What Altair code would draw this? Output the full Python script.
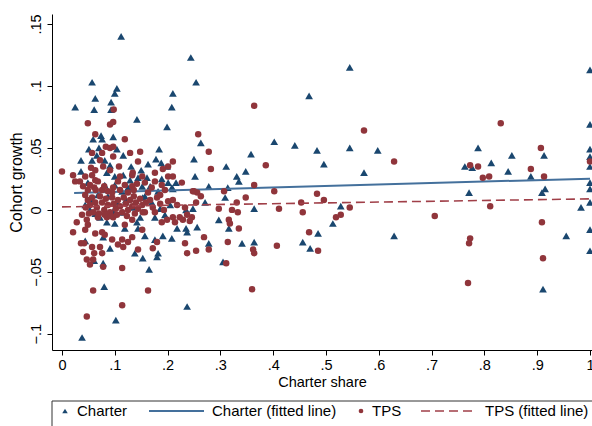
import altair as alt
import pandas as pd

# Charter schools: (charter share, cohort growth)
charter_points = [
    (.112, .140), (.244, .123), (.545, .115), (1.0, .113), (.057, .103), (.254, .103),
    (.104, .098), (.100, .094), (.210, .094), (.468, .092), (.063, .090), (.093, .087),
    (.025, .083), (.208, .083), (.061, .081), (.093, .081), (.142, .073), (1.0, .069),
    (.199, .067), (.074, .060), (.097, .059), (.059, .057), (.076, .057), (.263, .054),
    (.402, .055), (.441, .052), (.788, .050), (.545, .050), (1.0, .049), (.051, .049),
    (.070, .050), (.104, .049), (.184, .049), (.483, .048), (.598, .048), (.358, .045),
    (.913, .044), (.116, .044), (.066, .044), (.852, .044), (1.0, .043), (.250, .041),
    (.178, .041), (.036, .040), (.057, .040), (.081, .040), (.813, .038), (.188, .038),
    (.496, .037), (.163, .037), (.091, .036), (.763, .035), (.777, .034), (.311, .035),
    (.131, .035), (.199, .035), (1.0, .035), (.150, .032), (.036, .031), (.845, .031),
    (.348, .031), (.572, .030), (.085, .030), (.331, .027), (.335, .023), (.252, .027),
    (.888, .027), (.100, .027), (.116, .028), (.129, .024), (.144, .026), (.161, .026),
    (.189, .025), (.216, .022), (1.0, .022), (.049, .022), (.081, .020), (.100, .020),
    (.125, .018), (.152, .019), (.167, .019), (.201, .022), (.208, .018), (.278, .019),
    (.314, .018), (.915, .017), (1.0, .017), (.210, .017), (.068, .012), (.114, .015),
    (.157, .011), (.182, .015), (.771, .014), (.909, .014), (.309, .010), (.271, .006),
    (1.0, .006), (.528, .003), (.983, .002), (.364, .001), (.248, .001), (.235, .000),
    (.053, .000), (.116, -.002), (.072, -.006), (.297, -.008), (.142, -.010), (.085, -.010),
    (.100, -.011), (.513, -.011), (.119, -.015), (.144, -.015), (.256, -.014), (.235, -.015),
    (.218, -.015), (.316, -.015), (1.0, -.016), (.237, -.018), (.485, -.019), (.955, -.021),
    (.629, -.021), (.078, -.022), (.157, -.021), (.191, -.021), (.208, -.023), (.176, -.024),
    (.044, -.025), (.456, -.026), (.341, -.027), (.364, -.026), (.278, -.027), (.091, -.031),
    (.470, -.031), (1.0, -.033), (.138, -.035), (.182, -.035), (.180, -.038), (.153, -.039),
    (.061, -.041), (.078, -.043), (.305, -.042), (.165, -.048), (.080, -.062), (.911, -.064),
    (.237, -.078), (.102, -.089), (.038, -.103),
    (.057, .008), (.087, .011), (.104, .006), (.121, .008), (.136, .002), (.153, .010),
    (.170, .006), (.186, .001), (.063, -.003), (.097, -.001), (.148, -.006), (.176, -.006),
    (.195, -.004), (.205, .004), (.044, .004),
]

# Traditional public schools: (charter share, cohort growth)
tps_points = [
    (.364, .084), (.831, .070), (.098, .081), (.049, .070), (.091, .069), (.097, .071),
    (.572, .064), (.063, .061), (.258, .061), (.119, .057), (.907, .050), (.083, .051),
    (.091, .050), (.097, .051), (.278, .047), (.057, .046), (.076, .046), (.129, .046),
    (.148, .047), (.097, .043), (.072, .040), (.144, .039), (.629, .039), (1.0, .039),
    (.210, .039), (.386, .036), (.773, .036), (.788, .035), (.282, .033), (.888, .033),
    (.191, .033), (.108, .035), (.078, .035), (.201, .035), (.055, .034), (.063, .032),
    (.000, .031), (.021, .028), (.134, .030), (.091, .032), (.210, .027), (.809, .027),
    (.797, .026), (.913, .027), (.176, .030), (.044, .027), (.057, .028), (.110, .027),
    (.133, .028), (.152, .027), (.201, .027), (.025, .023), (.068, .023), (.106, .023),
    (.157, .022), (.176, .023), (.227, .022), (.364, .020), (.119, .020), (.142, .021),
    (.189, .020), (.034, .023), (.040, .019), (.049, .016), (.061, .018), (.076, .016),
    (.087, .015), (.097, .018), (.133, .019), (.402, .015), (.307, .015), (.250, .015),
    (.256, .014), (.263, .011), (.248, .015), (.483, .013), (.348, .010), (.496, .008),
    (.254, .006), (.331, .006), (.453, .006), (.210, .008), (.218, .004), (.233, .002),
    (.811, .003), (.297, .001), (.322, .000), (.333, -.002), (.411, .001), (.545, .002),
    (.456, -.002), (.528, -.004), (.519, -.006), (.706, -.005), (.237, -.004), (.246, -.006),
    (.223, -.006), (.210, -.006), (.229, -.008), (.214, -.010), (.242, -.009), (.316, -.008),
    (.318, -.011), (.909, -.010), (.335, -.015), (.038, -.004), (.028, -.010), (.047, -.008),
    (.049, -.012), (.044, -.016), (.021, -.018), (.063, -.019), (.076, -.018), (.068, -.006),
    (.085, -.006), (.097, -.006), (.119, -.012), (.133, -.008), (.157, -.002), (.176, -.002),
    (.189, -.010), (.199, -.008), (.152, -.016), (.133, -.022), (.114, -.024), (.106, -.028),
    (.116, -.030), (.125, -.026), (.095, -.024), (.081, -.020), (.468, -.018), (.269, -.022),
    (.773, -.023), (.771, -.027), (.036, -.027), (.042, -.027), (.057, -.030), (.072, -.030),
    (.040, -.034), (.061, -.035), (.076, -.035), (.144, -.032), (.172, -.031), (.180, -.026),
    (.233, -.027), (.314, -.026), (.254, -.033), (.237, -.035), (.278, -.032), (.407, -.029),
    (.362, -.032), (.364, -.035), (.485, -.033), (.911, -.039), (.047, -.040), (.053, -.044),
    (.059, -.040), (.078, -.046), (.114, -.047), (.311, -.043), (.769, -.059), (.360, -.064),
    (.059, -.065), (.163, -.065), (.114, -.077), (.047, -.086),
    (.044, .012), (.049, .008), (.053, .004), (.057, .010), (.063, .006), (.066, .002),
    (.072, .011), (.076, .006), (.080, .000), (.083, .009), (.087, .004), (.091, -.002),
    (.095, .010), (.098, .005), (.102, .001), (.106, .008), (.110, .003), (.114, -.002),
    (.117, .010), (.121, .005), (.125, .000), (.129, .008), (.133, .003), (.136, .011),
    (.140, .006), (.144, .001), (.148, .009), (.152, .004), (.159, .006), (.167, .008),
    (.172, .002), (.180, .010), (.186, .005), (.193, .000), (.201, .007), (.045, .002),
    (.051, -.003), (.059, -.002), (.070, -.003), (.081, -.004), (.093, -.005), (.104, -.004),
    (.123, -.005), (.138, -.003), (.153, -.002), (.064, .016), (.080, .019), (.095, .014),
    (.110, .016), (.125, .014), (.136, .016), (.163, .014), (.170, .018), (.186, .012),
    (.195, .016), (.053, .020), (.063, .024),
]

# Linear fits (end points of each fitted line)
charter_fit_share = [0.023, 1.0]
charter_fit_growth = [0.0137, 0.0252]
tps_fit_share = [0.0, 1.0]
tps_fit_growth = [0.0024, 0.0089]

x_ticks = [0, .1, .2, .3, .4, .5, .6, .7, .8, .9, 1]
y_ticks = [-.1, -.05, 0, .05, .1, .15]
legend_labels = ["Charter", "Charter (fitted line)", "TPS", "TPS (fitted line)"]

NAVY = "#1a476f"
MAROON = "#90353b"
NAVY_LINE = "#44709c"
MAROON_LINE = "#a03f48"
FONT = "Liberation Sans"

charter_df = pd.DataFrame(charter_points, columns=["share", "growth"])
tps_df = pd.DataFrame(tps_points, columns=["share", "growth"])
charter_fit_df = pd.DataFrame({"share": charter_fit_share, "growth": charter_fit_growth})
tps_fit_df = pd.DataFrame({"share": tps_fit_share, "growth": tps_fit_growth})

stata_label = "replace(format(datum.value, '~g'), '0.', '.')"

x_enc = alt.X(
    "share:Q",
    scale=alt.Scale(domain=[-0.0189, 1.0038], nice=False, zero=False),
    axis=alt.Axis(
        title="Charter share", values=x_ticks, labelExpr=stata_label,
        grid=False, domainColor="#000", tickColor="#000", tickSize=5,
        labelFontSize=14.5, labelColor="#000", labelPadding=3, labelFlush=False,
        titleFontSize=14.5, titleFontWeight="normal", titleColor="#000", titlePadding=4,
        labelFont=FONT, titleFont=FONT,
    ),
)
y_enc = alt.Y(
    "growth:Q",
    scale=alt.Scale(domain=[-0.1131, 0.1581], nice=False, zero=False),
    axis=alt.Axis(
        title="Cohort growth", values=y_ticks, labelExpr=stata_label,
        grid=False, domainColor="#000", tickColor="#000", tickSize=5,
        labelAngle=270, labelAlign="center", labelBaseline="bottom",
        labelFontSize=14.5, labelColor="#000", labelPadding=4, labelFlush=False,
        titleFontSize=16, titleFontWeight="normal", titleColor="#000", titlePadding=4,
        labelFont=FONT, titleFont=FONT,
    ),
)

charter_pts = alt.Chart(charter_df).mark_point(
    shape="triangle-up", filled=True, size=60, color=NAVY, opacity=1
).encode(x=x_enc, y=y_enc)

charter_line = alt.Chart(charter_fit_df).mark_line(
    color=NAVY_LINE, strokeWidth=2
).encode(x="share:Q", y="growth:Q")

tps_pts = alt.Chart(tps_df).mark_circle(
    size=42, color=MAROON, opacity=1
).encode(x="share:Q", y="growth:Q")

tps_line = alt.Chart(tps_fit_df).mark_line(
    color=MAROON_LINE, strokeWidth=1.6, strokeDash=[9, 5]
).encode(x="share:Q", y="growth:Q")

# Boxed legend below the x axis title
one = alt.Data(values=[{}])
LEG_Y = 397
legend_box = alt.Chart(one).mark_rect(
    fill="white", stroke="#333", strokeWidth=1
).encode(x=alt.value(0), x2=alt.value(560), y=alt.value(387), y2=alt.value(440))


def legend_text(label, x):
    return alt.Chart(one).mark_text(
        align="left", baseline="middle", fontSize=15, font=FONT, color="#000"
    ).encode(x=alt.value(x), y=alt.value(LEG_Y), text=alt.value(label))


leg_tri = alt.Chart(one).mark_point(
    shape="triangle-up", filled=True, size=30, color=NAVY, opacity=1
).encode(x=alt.value(13), y=alt.value(LEG_Y))
leg_solid = alt.Chart(one).mark_rule(color=NAVY_LINE, strokeWidth=2).encode(
    x=alt.value(97), x2=alt.value(152), y=alt.value(LEG_Y)
)
leg_dot = alt.Chart(one).mark_circle(size=22, color=MAROON, opacity=1).encode(
    x=alt.value(309), y=alt.value(LEG_Y)
)
leg_dash = alt.Chart(one).mark_rule(
    color=MAROON_LINE, strokeWidth=1.6, strokeDash=[9, 5]
).encode(x=alt.value(369), x2=alt.value(420), y=alt.value(LEG_Y))

chart = alt.layer(
    charter_pts, charter_line, tps_pts, tps_line,
    legend_box, leg_tri, legend_text(legend_labels[0], 25),
    leg_solid, legend_text(legend_labels[1], 160),
    leg_dot, legend_text(legend_labels[2], 320),
    leg_dash, legend_text(legend_labels[3], 433),
).properties(
    width=540, height=336,
    autosize=alt.AutoSizeParams(type="none"),
    padding={"left": 52, "top": 14, "right": 0, "bottom": 76},
    background="white",
).configure_view(stroke=None)

chart.save("out.html", embed_options={"renderer": "svg", "actions": False})
